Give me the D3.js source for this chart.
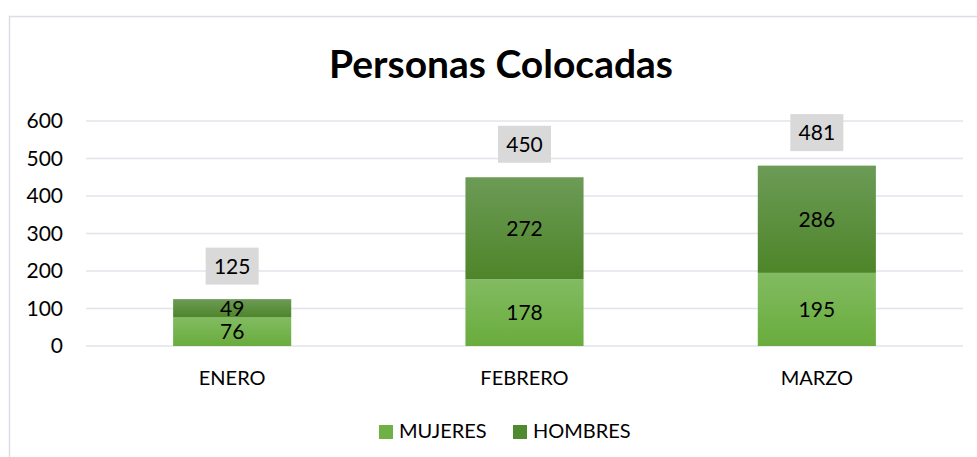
<!DOCTYPE html>
<html>
<head>
<meta charset="utf-8">
<script src="https://cdn.jsdelivr.net/npm/d3@7"></script>
<style>
  body { margin: 0; background: #fff; }
  svg { display: block; font-family: Lato, "Open Sans", sans-serif; }
</style>
</head>
<body>
<svg width="977" height="457"></svg>
<script>
const categories = ['ENERO', 'FEBRERO', 'MARZO']
const mujeres = [76, 178, 195]
const hombres = [49, 272, 286]
const totals = [125, 450, 481]
const yTicks = [0, 100, 200, 300, 400, 500, 600]
const seriesNames = ['MUJERES', 'HOMBRES']

const svg = d3.select('svg')
const width = 977
const height = 457

const plotLeft = 86
const plotRight = 963
const plotTop = 121
const plotBottom = 346

// chart frame (only left and top edges are visible)
svg.append('path')
  .attr('d', `M9.5,${height} V16.5 H${width}`)
  .attr('fill', 'none')
  .attr('stroke', '#d9dde6')
  .attr('stroke-width', 1.5)

const defs = svg.append('defs')
const gradMuj = defs.append('linearGradient').attr('id', 'gMuj')
  .attr('x1', 0).attr('y1', 0).attr('x2', 0).attr('y2', 1)
gradMuj.append('stop').attr('offset', '0%').attr('stop-color', '#82bb61')
gradMuj.append('stop').attr('offset', '100%').attr('stop-color', '#69ac3d')
const gradHom = defs.append('linearGradient').attr('id', 'gHom')
  .attr('x1', 0).attr('y1', 0).attr('x2', 0).attr('y2', 1)
gradHom.append('stop').attr('offset', '0%').attr('stop-color', '#6c9b56')
gradHom.append('stop').attr('offset', '100%').attr('stop-color', '#4e8529')

const x = d3.scaleBand()
  .domain(categories)
  .range([plotLeft, plotRight])
  .paddingInner(0.596)
  .paddingOuter(0.298)

const y = d3.scaleLinear()
  .domain([0, 600])
  .range([plotBottom, plotTop])

// title
svg.append('text')
  .attr('x', 501)
  .attr('y', 78)
  .attr('text-anchor', 'middle')
  .attr('font-size', '39px')
  .attr('font-weight', 'bold')
  .attr('fill', '#000')
  .text('Personas Colocadas')

// gridlines
svg.append('g').selectAll('line')
  .data(yTicks)
  .enter()
  .append('line')
  .attr('x1', plotLeft)
  .attr('x2', plotRight)
  .attr('y1', d => y(d))
  .attr('y2', d => y(d))
  .attr('stroke', '#e1e4ea')
  .attr('stroke-width', 1.5)

// y axis labels
const yAxis = d3.axisLeft(y).tickValues(yTicks).tickSize(0).tickPadding(0)
const yG = svg.append('g')
  .attr('transform', 'translate(63,0)')
  .call(yAxis)
yG.select('.domain').remove()
yG.selectAll('text')
  .attr('font-size', '21px')
  .attr('font-family', 'Lato, sans-serif')
  .attr('fill', '#000')

// x axis labels
const xAxis = d3.axisBottom(x).tickSize(0).tickPadding(0)
const xG = svg.append('g')
  .attr('transform', 'translate(0,371)')
  .call(xAxis)
xG.select('.domain').remove()
xG.selectAll('text')
  .attr('font-size', '20px')
  .attr('font-family', 'Lato, sans-serif')
  .attr('fill', '#000')

// stacked bars
const rows = categories.map((c, i) => ({ cat: c, MUJERES: mujeres[i], HOMBRES: hombres[i] }))
const stacked = d3.stack().keys(seriesNames)(rows)
const fills = { MUJERES: 'url(#gMuj)', HOMBRES: 'url(#gHom)' }

const layer = svg.append('g').selectAll('g')
  .data(stacked)
  .enter()
  .append('g')

layer.selectAll('rect')
  .data(d => d.map(v => Object.assign(v, { key: d.key })))
  .enter()
  .append('rect')
  .attr('x', d => x(d.data.cat))
  .attr('width', x.bandwidth())
  .attr('y', d => y(d[1]))
  .attr('height', d => y(d[0]) - y(d[1]))
  .attr('fill', d => fills[d.key])

layer.selectAll('text')
  .data(d => d)
  .enter()
  .append('text')
  .attr('x', d => x(d.data.cat) + x.bandwidth() / 2)
  .attr('y', d => (y(d[0]) + y(d[1])) / 2)
  .attr('dy', '0.36em')
  .attr('text-anchor', 'middle')
  .attr('font-size', '21px')
  .attr('fill', '#000')
  .text(d => d[1] - d[0])

// totals in grey boxes
const totalG = svg.append('g').selectAll('g')
  .data(totals)
  .enter()
  .append('g')
  .attr('transform', (d, i) => `translate(${x(categories[i]) + x.bandwidth() / 2},${y(d) - 33})`)

totalG.append('rect')
  .attr('x', -26.5)
  .attr('y', -18.5)
  .attr('width', 53)
  .attr('height', 37)
  .attr('fill', '#d9d9d9')

totalG.append('text')
  .attr('dy', '0.36em')
  .attr('text-anchor', 'middle')
  .attr('font-size', '21px')
  .attr('fill', '#000')
  .text(d => d)

// legend
const legendColors = ['#70b044', '#4f8a2f']
const legendX = [379, 513]
const legend = svg.append('g').selectAll('g')
  .data(seriesNames)
  .enter()
  .append('g')
  .attr('transform', (d, i) => `translate(${legendX[i]},425)`)

legend.append('rect')
  .attr('width', 14)
  .attr('height', 14)
  .attr('fill', (d, i) => legendColors[i])

legend.append('text')
  .attr('x', 20)
  .attr('y', 13)
  .attr('font-size', '20px')
  .attr('fill', '#000')
  .text(d => d)
</script>
</body>
</html>
